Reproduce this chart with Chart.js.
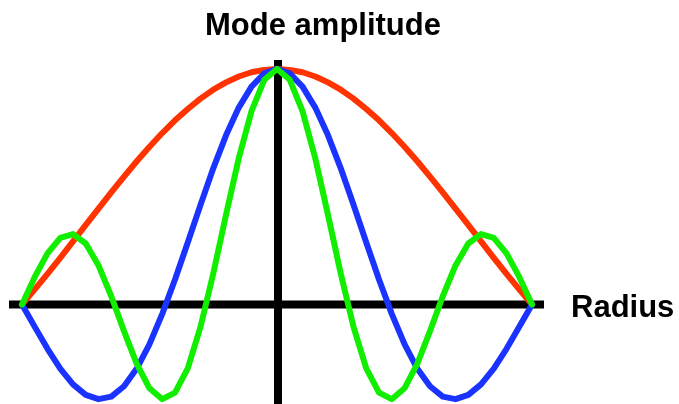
<!DOCTYPE html>
<html>
<head>
<meta charset="utf-8">
<script src="https://cdn.jsdelivr.net/npm/chart.js@4/dist/chart.umd.min.js"></script>
<style>
  html, body { margin: 0; padding: 0; background: #ffffff; }
  #wrap { width: 679px; height: 404px; }
</style>
</head>
<body>
<div id="wrap"><canvas id="c" width="679" height="404"></canvas></div>
<script>
// Radius positions (normalised, -1 = left edge, 1 = right edge)
const radius = [-1.00,-0.95,-0.90,-0.85,-0.80,-0.75,-0.70,-0.65,-0.60,-0.55,-0.50,-0.45,-0.40,-0.35,-0.30,-0.25,-0.20,-0.15,-0.10,-0.05,
                0.00,0.05,0.10,0.15,0.20,0.25,0.30,0.35,0.40,0.45,0.50,0.55,0.60,0.65,0.70,0.75,0.80,0.85,0.90,0.95,1.00];

// Mode amplitudes
const mode1Red = [0,0.064,0.130,0.198,0.268,0.338,0.407,0.476,0.543,0.608,0.670,0.728,0.782,0.830,0.874,0.912,0.943,0.968,0.986,0.996,
                  1,0.996,0.986,0.968,0.943,0.912,0.874,0.830,0.782,0.728,0.670,0.608,0.543,0.476,0.407,0.338,0.268,0.198,0.130,0.064,0];
const mode2Blue = [0,-0.095,-0.188,-0.272,-0.339,-0.384,-0.402,-0.391,-0.347,-0.272,-0.168,-0.040,0.106,0.263,0.423,0.578,0.718,0.836,0.925,0.981,
                   1,0.981,0.925,0.836,0.718,0.578,0.423,0.263,0.106,-0.040,-0.168,-0.272,-0.347,-0.391,-0.402,-0.384,-0.339,-0.272,-0.188,-0.095,0];
const mode3Green = [0,0.117,0.217,0.283,0.299,0.259,0.166,0.035,-0.113,-0.252,-0.356,-0.402,-0.374,-0.271,-0.095,0.131,0.380,0.621,0.821,0.954,
                    1,0.954,0.821,0.621,0.380,0.131,-0.095,-0.271,-0.374,-0.402,-0.356,-0.252,-0.113,0.035,0.166,0.259,0.299,0.283,0.217,0.117,0];

const titleText = 'Mode amplitude';
const axisLabel = 'Radius';

const toPts = arr => arr.map((v, i) => ({ x: radius[i], y: v }));

const axesPlugin = {
  id: 'axesCross',
  beforeDatasetsDraw(chart) {
    const { ctx, chartArea, scales } = chart;
    const x0 = scales.x.getPixelForValue(0) + 1;
    const y0 = scales.y.getPixelForValue(0);
    ctx.save();
    ctx.strokeStyle = '#000000';
    ctx.lineWidth = 8;
    ctx.lineCap = 'butt';
    ctx.beginPath();
    ctx.moveTo(chartArea.left, y0);
    ctx.lineTo(chartArea.right, y0);
    ctx.moveTo(x0, chartArea.top);
    ctx.lineTo(x0, chartArea.bottom);
    ctx.stroke();
    ctx.restore();
  },
  afterDraw(chart) {
    const { ctx, chartArea, scales } = chart;
    const y0 = scales.y.getPixelForValue(0);
    ctx.save();
    ctx.fillStyle = '#000000';
    ctx.font = 'bold 31px "Liberation Sans", Arial, sans-serif';
    ctx.textAlign = 'center';
    ctx.textBaseline = 'alphabetic';
    ctx.fillText(titleText, 323, 35);
    ctx.textAlign = 'left';
    ctx.fillText(axisLabel, chartArea.right + 27, y0 + 12.5);
    ctx.restore();
  }
};

new Chart(document.getElementById('c'), {
  type: 'line',
  data: {
    datasets: [
      { data: toPts(mode1Red), borderColor: '#ff3300', order: 3 },
      { data: toPts(mode2Blue), borderColor: '#1a33ff', order: 2 },
      { data: toPts(mode3Green), borderColor: '#11ee00', order: 1 }
    ]
  },
  options: {
    responsive: false,
    animation: false,
    devicePixelRatio: 1,
    layout: { padding: { left: 9, right: 135, top: 60, bottom: 0 } },
    elements: {
      line: { borderWidth: 6, tension: 0, fill: false, borderJoinStyle: 'round', borderCapStyle: 'round' },
      point: { radius: 0 }
    },
    scales: {
      x: { type: 'linear', min: -1.051, max: 1.047, display: false },
      y: { type: 'linear', min: -0.4225, max: 1.038, display: false }
    },
    plugins: { legend: { display: false }, title: { display: false }, tooltip: { enabled: false } }
  },
  plugins: [axesPlugin]
});
</script>
</body>
</html>
